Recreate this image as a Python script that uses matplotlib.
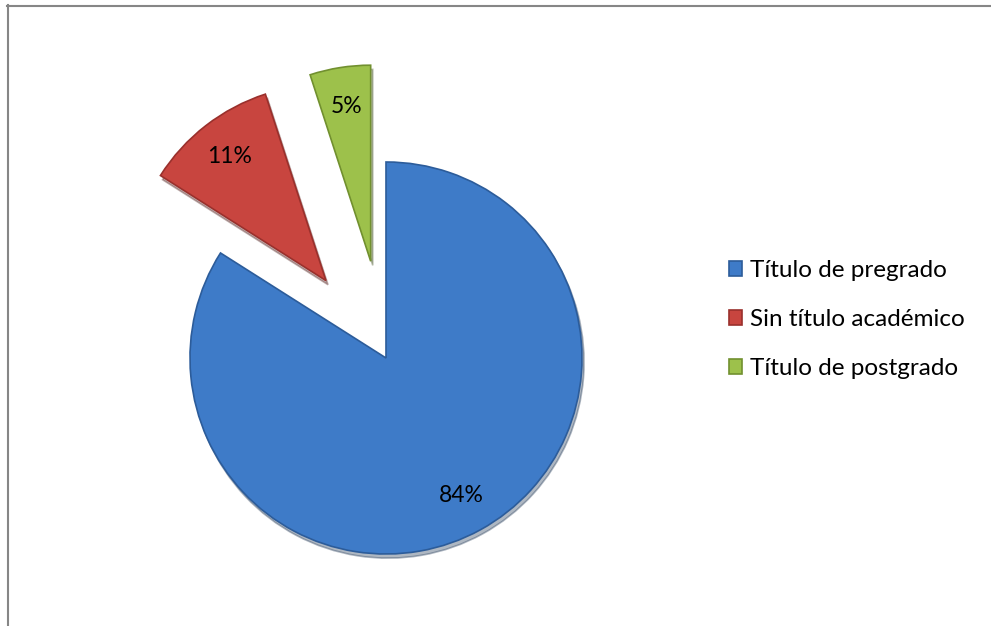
import matplotlib
matplotlib.use('Agg')
import matplotlib.pyplot as plt
from matplotlib.lines import Line2D

# data
labels = ['Título de pregrado', 'Sin título académico', 'Título de postgrado']
values = [84, 11, 5]
colors = ['#3e7bc8', '#c8453f', '#9dc14b']
edges = ['#2c5c9a', '#9a302c', '#71902f']
explode = [0, 0.5, 0.5]   # fraction of radius

plt.rcParams['font.family'] = ['Lato', 'DejaVu Sans']

fig = plt.figure(figsize=(9.91, 6.26), dpi=100)
ax = fig.add_axes([0, 0, 1, 1])

R = 196
wedges, texts, autotexts = ax.pie(values, explode=[e * R for e in explode], colors=colors,
                                  startangle=90, counterclock=False,
                                  center=(386, 268), radius=R,
                                  autopct='%1.0f%%', pctdistance=0.8,
                                  shadow={'ox': 1.5, 'oy': -3, 'shade': 0.6, 'alpha': 0.35},
                                  wedgeprops=dict(linewidth=1.2),
                                  textprops=dict(fontsize=16.5, color='black'))
for w, ec in zip(wedges, edges):
    w.set_edgecolor(ec)

# pie() resets the limits, so set them after
ax.set_xlim(0, 991)
ax.set_ylim(0, 626)
ax.set_aspect('equal')
ax.axis('off')

leg = ax.legend(wedges, labels, loc='upper left',
                bbox_to_anchor=(729/991, 1-260/626), bbox_transform=fig.transFigure,
                frameon=False, fontsize=17.5, labelspacing=1.15,
                handlelength=0.55, handleheight=0.55, handletextpad=0.3,
                borderpad=0, borderaxespad=0)

# chart frame (only top and left edges visible in the crop)
fig.add_artist(Line2D([7.5/991, 7.5/991], [0, 1-5/626], transform=fig.transFigure,
                      color='#868686', lw=1.5))
fig.add_artist(Line2D([7/991, 1], [1-5.5/626, 1-5.5/626], transform=fig.transFigure,
                      color='#868686', lw=1.5))

fig.savefig('out.png', dpi=100)
